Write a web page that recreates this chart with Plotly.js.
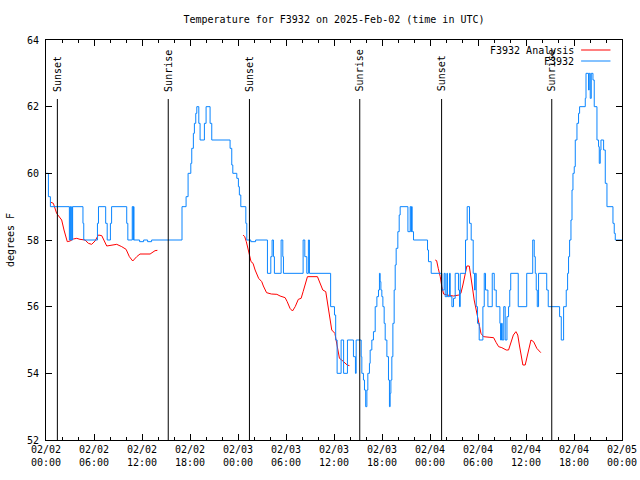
<!DOCTYPE html>
<html>
<head>
<meta charset="utf-8">
<script src="https://cdn.plot.ly/plotly-3.0.1.min.js"></script>
<style>html,body{margin:0;padding:0;background:#fff;}#chart{width:640px;height:480px;}</style>
</head>
<body>
<div id="chart"></div>
<script>
// Time values are hours after 2025-02-02 00:00 UTC
const startDate = Date.UTC(2025, 1, 2, 0, 0, 0);

// F3932 observations (step changes)
const obsHours = [0, 0.3, 0.55, 2.92, 3.0, 3.08, 3.21, 3.26, 3.33, 4.62, 4.72, 6.43, 6.56, 7.46, 7.65, 8.05, 8.2,
  10.09, 10.23, 10.78, 10.88, 10.93, 11.0, 11.7, 12.2, 12.7, 13.2, 17.0, 17.51, 17.76, 18.1, 18.22, 18.42, 18.55, 18.72, 18.85,
  19.1, 19.26, 19.8, 20.01, 20.51, 20.72, 23.01, 23.22, 23.35, 23.85, 24.05, 24.17, 24.35, 24.98, 25.1, 25.6, 26.2,
  27.68, 28.1, 28.26, 28.43, 28.55, 29.39, 29.6, 29.68, 32.14, 32.35, 32.6, 32.8, 32.93, 35.58, 36.06, 36.21, 36.39,
  36.89, 37.2, 37.68, 38.43, 38.68, 38.77, 39.4, 39.48, 39.68, 39.81, 39.96, 40.11, 40.23, 40.43, 40.52, 40.73, 40.93,
  41.15, 41.36, 41.56, 41.68, 41.77, 41.86, 41.98, 42.11, 42.27, 42.4, 42.61, 42.81, 42.93, 43.02, 43.11, 43.23, 43.36,
  43.52, 43.65, 43.77, 43.98, 44.15, 44.27, 45.24, 45.52, 45.61, 45.69, 45.77, 45.94, 47.69, 47.81, 48.15, 49.49, 49.77,
  49.9, 50.11, 50.19, 50.44, 50.53, 50.74, 50.94, 51.15, 51.56, 51.69, 51.78, 52.44, 52.65, 52.94, 53.15, 53.4, 53.57,
  53.65, 53.78, 53.94, 54.15, 54.61, 54.78, 54.94, 55.24, 55.78, 56.03, 56.28, 56.74, 56.82, 56.94, 57.03, 57.22, 57.4,
  57.62, 57.82, 57.97, 58.09, 59.03, 60.09, 60.84, 61.03, 61.16, 61.28, 61.41, 61.57, 62.59, 62.78, 64.2, 64.41, 64.7,
  65.03, 65.2, 65.32, 65.45, 65.62, 65.75, 65.87, 66.03, 66.16, 66.37, 66.57, 66.7, 67.41, 67.5, 67.82, 67.9, 68.03,
  68.16, 68.37, 68.53, 68.87, 69.07, 69.16, 69.28, 69.37, 69.7, 69.91, 70.12, 70.87, 71.03, 71.16, 72];
const obsTemps = [60, 59.3, 59, 58, 59, 58, 59, 58, 59, 58.5, 58, 58.5, 59, 58.5, 58, 58.5, 59,
  58.5, 58, 59, 58, 59, 58, 57.95, 58, 57.95, 58, 59, 59.3, 60, 60.3, 60.75, 61.2, 61.5, 61.8, 62,
  61.5, 61, 61.5, 62, 61.5, 61, 60.75, 60.25, 60, 59.85, 59.6, 59.35, 59, 58.5, 58, 57.95, 58,
  57, 57.5, 58, 57.5, 57, 58, 57.5, 57, 58, 57.5, 57, 58, 57, 56, 55.75, 55, 54,
  55, 54, 55, 54.5, 54, 55, 54.5, 54, 53.8, 53.5, 53, 53.5, 54, 54.3, 54.7, 55, 55.25,
  56, 56.3, 56.5, 57, 56.75, 56.5, 56.3, 56, 55.5, 55, 54.5, 53.8, 53, 53.4, 53.8, 54.5, 55.5,
  56.5, 57.25, 57.75, 58.25, 58.75, 59, 58.25, 59, 58.25, 59, 58.25, 58, 57.7, 57.35, 57, 56.5, 57,
  56.3, 57, 56.3, 57, 56.3, 56, 56.25, 57, 56.5, 56, 57, 58, 59, 58.5, 58, 57, 56.5,
  57, 56, 55.5, 55, 56, 57, 56.5, 56, 57, 56.5, 56, 55.5, 55, 55.5, 55, 56, 55,
  55.7, 56, 56.5, 57, 56, 57, 58, 57.5, 57, 56.5, 56, 57, 56.5, 56, 55.7, 55, 56,
  56.5, 57, 57.5, 58, 58.6, 59.5, 60, 60.2, 61, 61.5, 61.8, 62, 62.25, 63, 62.5, 63, 62.25,
  63, 62.8, 62, 61, 60.8, 60.3, 60.7, 61, 60.7, 59.7, 59, 58.5, 58.2, 58, 58];

// F3932 Analysis (null separates the three runs)
const anaHours = [0.63, 0.92, 1.33, 1.66, 1.96, 2.25, 2.66, 3.0, 3.42, 3.84, 4.25, 4.88, 5.3, 5.71, 6.13, 6.55, 6.97,
  7.59, 8.22, 8.84, 9.47, 10.01, 10.42, 10.84, 11.34, 11.75, 13.01, 13.63, 13.92, 19.0,
  24.64, 24.84, 25.04, 25.39, 25.63, 25.88, 26.14, 26.58, 26.97, 27.17, 27.57, 28.17, 28.86, 29.26, 29.89, 30.15, 30.5,
  30.81, 31.15, 31.54, 31.89, 32.14, 32.39, 32.68, 33.93, 34.28, 34.6, 34.97, 35.17, 35.39, 35.52, 35.72, 36.11, 36.26,
  36.46, 36.68, 36.96, 37.36, 37.65, 37.93, 43.0,
  48.65, 48.83, 49.03, 49.28, 49.48, 49.7, 50.12, 50.92, 51.61, 51.86, 52.11, 52.41, 52.61, 52.91, 53.02, 53.23, 53.35,
  53.52, 53.78, 53.95, 54.2, 54.37, 54.69, 55.49, 55.95, 56.28, 56.58, 56.98, 57.53, 57.82, 58.11, 58.42, 58.74, 58.97,
  59.17, 59.36, 59.61, 59.9, 60.11, 60.36, 60.62, 60.95, 61.35, 61.85];
const anaTemps = [59.13, 59.1, 58.8, 58.7, 58.6, 58.3, 57.95, 57.97, 58.03, 58.05, 58.02, 58.0, 57.9, 57.87, 57.97, 58.15, 58.13,
  57.82, 57.84, 57.87, 57.8, 57.72, 57.5, 57.37, 57.5, 57.58, 57.58, 57.68, 57.69, null,
  58.15, 58.1, 57.95, 57.6, 57.35, 57.3, 57.1, 56.85, 56.75, 56.62, 56.42, 56.38, 56.37, 56.32, 56.27, 56.15, 55.95,
  55.87, 56.0, 56.22, 56.25, 56.45, 56.65, 56.9, 56.9, 56.7, 56.5, 56.45, 56.1, 55.8, 55.55, 55.3, 55.2, 55.0,
  54.7, 54.45, 54.4, 54.3, 54.25, 54.23, null,
  57.4, 57.38, 57.15, 56.9, 56.6, 56.38, 56.35, 56.32, 56.35, 56.4, 56.65, 57.0, 57.22, 57.22, 57.05, 56.8, 56.5,
  56.2, 55.85, 55.65, 55.4, 55.2, 55.1, 55.08, 55.07, 54.92, 54.8, 54.77, 54.7, 54.7, 54.9, 55.15, 55.25, 55.15,
  54.85, 54.6, 54.25, 54.25, 54.5, 54.75, 55.0, 54.95, 54.75, 54.62];

// Sun events
const sunHours = [1.42, 15.28, 25.43, 39.22, 49.45, 63.22];
const sunLabels = ["Sunset", "Sunrise", "Sunset", "Sunrise", "Sunset", "Sunrise"];

const titleText = "Temperature for F3932 on 2025-Feb-02 (time in UTC)";
const yTitle = "degrees F";
const seriesNames = ["F3932 Analysis", "F3932"];
const seriesColors = ['#ff0000', '#0a85ff'];

function toDate(h) {
  const d = new Date(startDate + h * 3600000);
  return d.toISOString().replace('T', ' ').replace('Z', '');
}

const FONT = "DejaVu Sans Mono";

const traces = [
  {
    x: anaHours.map(toDate), y: anaTemps, name: seriesNames[0], type: 'scatter', mode: 'lines',
    line: {color: seriesColors[0], width: 1}, connectgaps: false
  },
  {
    x: obsHours.map(toDate), y: obsTemps, name: seriesNames[1], type: 'scatter', mode: 'lines',
    line: {color: seriesColors[1], width: 1, shape: 'hv'}
  }
];

const shapes = sunHours.map(h => ({
  type: 'line', xref: 'x', yref: 'y', x0: toDate(h), x1: toDate(h), y0: 52, y1: 62.23,
  line: {color: '#000', width: 1}
}));

const annotations = sunHours.map((h, i) => ({
  x: toDate(h), y: 62.42, xref: 'x', yref: 'y', text: sunLabels[i], textangle: -90,
  showarrow: false, xanchor: 'center', yanchor: 'bottom', borderpad: 0,
  font: {family: FONT, size: 10, color: '#000'}
}));

// gnuplot-style key: text right-aligned, line sample to the right
const keyRows = [0.975, 0.9475];
seriesNames.forEach((name, i) => {
  annotations.push({
    x: 0.919, y: keyRows[i], xref: 'paper', yref: 'paper', text: name, showarrow: false,
    xanchor: 'right', yanchor: 'middle', borderpad: 0,
    font: {family: FONT, size: 10, color: '#000'}
  });
  shapes.push({
    type: 'line', xref: 'paper', yref: 'paper', x0: 0.929, x1: 0.98, y0: keyRows[i], y1: keyRows[i],
    line: {color: seriesColors[i], width: 1}
  });
});

const layout = {
  width: 640, height: 480,
  margin: {l: 46, r: 18, t: 40, b: 40},
  paper_bgcolor: '#fff', plot_bgcolor: '#fff',
  font: {family: FONT, size: 10, color: '#000'},
  title: {text: titleText, x: 0.5, xref: 'paper', y: 0.96, yref: 'container', yanchor: 'middle',
    font: {family: FONT, size: 10, color: '#000'}},
  xaxis: {
    type: 'date', range: [toDate(0), toDate(72)],
    tick0: toDate(0), dtick: 6 * 3600000, tickformat: '%m/%d<br>%H:%M',
    ticks: 'inside', ticklen: 6, tickcolor: '#000', mirror: 'ticks',
    showline: true, linecolor: '#000', linewidth: 1, showgrid: false, zeroline: false,
    minor: {dtick: 2 * 3600000, ticks: 'inside', ticklen: 3, tickcolor: '#000', showgrid: false},
    tickfont: {family: FONT, size: 10, color: '#000'}
  },
  yaxis: {
    range: [52, 64], dtick: 2, tick0: 52,
    ticks: 'inside', ticklen: 6, tickcolor: '#000', mirror: 'ticks',
    showline: true, linecolor: '#000', linewidth: 1, showgrid: false, zeroline: false,
    tickfont: {family: FONT, size: 10, color: '#000'}, ticklabelstandoff: 4,
    title: {text: yTitle, standoff: 10, font: {family: FONT, size: 10, color: '#000'}}
  },
  showlegend: false,
  shapes: shapes,
  annotations: annotations
};

Plotly.newPlot('chart', traces, layout, {displayModeBar: false, staticPlot: true});
</script>
</body>
</html>
